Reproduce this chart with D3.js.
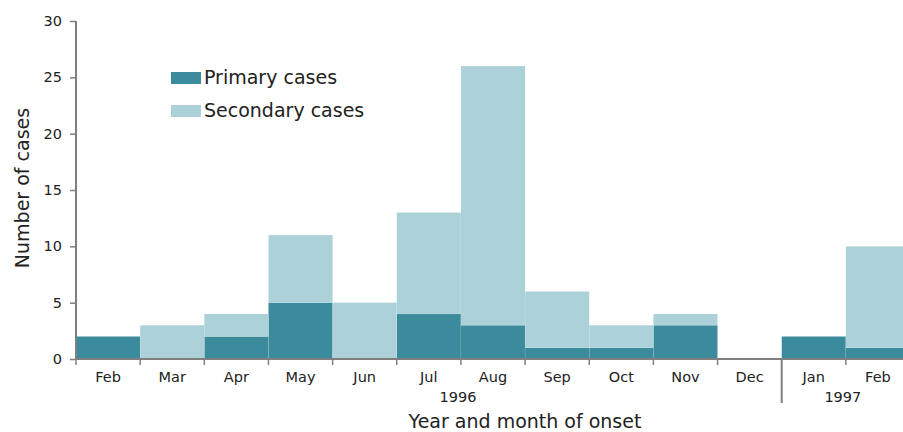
<!DOCTYPE html>
<html><head><meta charset="utf-8">
<script src="https://cdn.jsdelivr.net/npm/d3@7"></script>
<style>body{margin:0;background:#fff}svg{display:block}text{font-family:"DejaVu Sans",Verdana,sans-serif;fill:#222}</style>
</head><body><svg id="c" width="903" height="432"></svg>
<script>
const months = ["Feb","Mar","Apr","May","Jun","Jul","Aug","Sep","Oct","Nov","Dec","Jan","Feb"];
const keys = months.map((m,i)=>m+"_"+i);
const primary =   [2,0,2,5,0,4,3,1,1,3,0,2,1];
const secondary = [0,3,2,6,5,9,23,5,2,1,0,0,9];
const yTicks = [0,5,10,15,20,25,30];
const years = [{label:"1996", at:6},{label:"1997", at:12}];
const yearBreak = 11;
const seriesNames = ["Primary cases","Secondary cases"];
const colors = ["#3b8b9d","#acd1d9"];

const svg = d3.select("#c");
const x = d3.scaleBand().domain(keys).range([76,910]).padding(0);
const y = d3.scaleLinear().domain([0,30]).range([359,21]);

const data = keys.map((k,i)=>({key:k, primary:primary[i], secondary:secondary[i]}));
const stack = d3.stack().keys(["primary","secondary"])(data);

svg.append("g").selectAll("g").data(stack).join("g")
  .attr("fill",(d,i)=>colors[i])
  .selectAll("rect").data(d=>d).join("rect")
  .attr("x",d=>x(d.data.key)).attr("width",x.bandwidth())
  .attr("y",d=>y(d[1])).attr("height",d=>y(d[0])-y(d[1]))
  .attr("stroke","#ffffff").attr("stroke-width",0.3).attr("stroke-opacity",0.3);

const axisColor = "#7f7f7f";
// y axis
const yAxis = svg.append("g").attr("transform","translate(76,0)")
  .call(d3.axisLeft(y).tickValues(yTicks).tickSize(6).tickPadding(8));
yAxis.select(".domain").attr("stroke",axisColor).attr("stroke-width",2).attr("d","M0,"+y(30)+"V"+y(0));
yAxis.selectAll(".tick line").attr("stroke",axisColor).attr("stroke-width",1.5);
yAxis.selectAll(".tick text").attr("font-size",14.5).style("fill","#222").attr("font-family","DejaVu Sans");

// x axis
const xg = svg.append("g").attr("transform","translate(0,359)");
xg.append("line").attr("x1",75).attr("x2",903).attr("y1",0).attr("y2",0).attr("stroke",axisColor).attr("stroke-width",2);
const bounds = keys.map(k=>x(k)).concat([x.range()[1]]);
xg.selectAll("line.t").data(bounds).join("line").attr("class","t")
  .attr("x1",d=>d).attr("x2",d=>d).attr("y1",0)
  .attr("y2",(d,i)=>i===yearBreak?44:6)
  .attr("stroke",axisColor).attr("stroke-width",(d,i)=>i===yearBreak?2:1.5);
xg.selectAll("text.m").data(keys).join("text").attr("class","m")
  .attr("x",k=>x(k)+x.bandwidth()/2).attr("y",23)
  .attr("text-anchor","middle").attr("font-size",14.5).text((k,i)=>months[i]);
xg.selectAll("text.yr").data(years).join("text").attr("class","yr")
  .attr("x",d=>x(keys[d.at])-3).attr("y",43)
  .attr("text-anchor","middle").attr("font-size",14.5).text(d=>d.label);

// axis titles
svg.append("text").attr("x",525).attr("y",428).attr("font-size",19).attr("text-anchor","middle")
  .text("Year and month of onset");
svg.append("text").attr("transform","translate(29,188) rotate(-90)").attr("text-anchor","middle")
  .attr("font-size",19).text("Number of cases");

// legend
const lg = svg.append("g").attr("transform","translate(171,70)");
seriesNames.forEach((n,i)=>{
  lg.append("rect").attr("x",0).attr("y",i*33+2).attr("width",30).attr("height",12).attr("fill",colors[i]);
  lg.append("text").attr("x",33).attr("y",i*33+14).attr("font-size",19).text(n);
});
</script></body></html>
